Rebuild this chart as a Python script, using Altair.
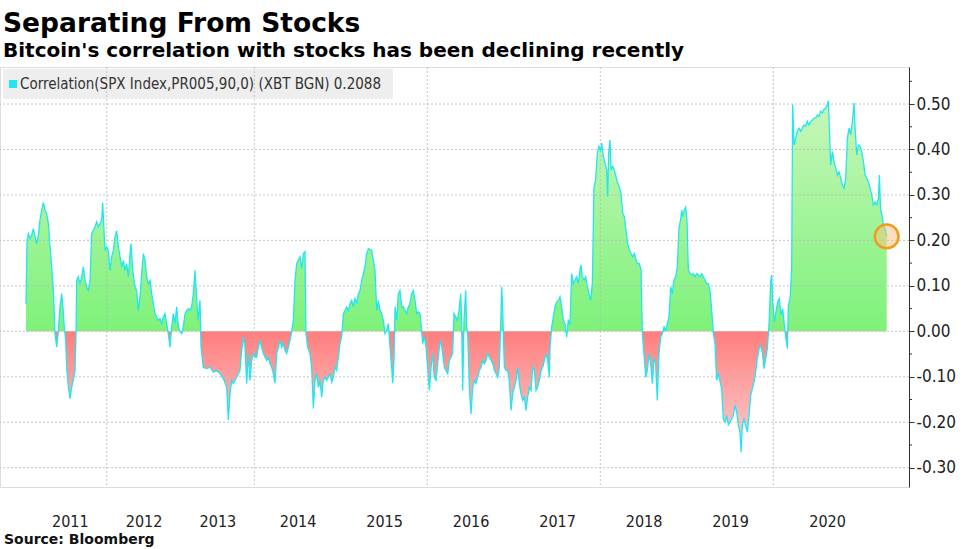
import altair as alt
import pandas as pd

# ---------------- data (decimal year, 90-day correlation) ----------------
years_a = [2010.906, 2010.920, 2010.938, 2010.961, 2010.983, 2011.006, 2011.028, 2011.051, 2011.073, 2011.096,
           2011.119, 2011.141, 2011.164, 2011.186, 2011.209, 2011.232, 2011.254, 2011.277, 2011.299, 2011.322,
           2011.345, 2011.367, 2011.390, 2011.403, 2011.421, 2011.444, 2011.457, 2011.480, 2011.503, 2011.525,
           2011.548, 2011.570, 2011.584, 2011.593, 2011.615, 2011.638, 2011.661, 2011.683, 2011.706, 2011.728,
           2011.751, 2011.774, 2011.796, 2011.819, 2011.841, 2011.864, 2011.887, 2011.909, 2011.932, 2011.945,
           2011.963, 2011.977, 2011.999, 2012.022, 2012.045, 2012.067, 2012.090, 2012.112, 2012.135, 2012.158,
           2012.180, 2012.203, 2012.225, 2012.248, 2012.270, 2012.293, 2012.316, 2012.329, 2012.352, 2012.383,
           2012.406, 2012.428, 2012.451, 2012.474, 2012.496, 2012.519, 2012.541, 2012.564, 2012.587, 2012.609,
           2012.632, 2012.654, 2012.677, 2012.700, 2012.722, 2012.745, 2012.767, 2012.790, 2012.812, 2012.835,
           2012.858, 2012.880, 2012.903, 2012.925, 2012.948, 2012.971, 2012.993, 2013.016, 2013.038, 2013.061,
           2013.084, 2013.106, 2013.129, 2013.151, 2013.174, 2013.196]
corr_a = [0.06, 0.20, 0.215, 0.204, 0.211, 0.226, 0.208, 0.193, 0.211, 0.245,
          0.267, 0.283, 0.267, 0.259, 0.237, 0.186, 0.142, 0.090, -0.005, -0.035,
          0.002, 0.054, 0.083, 0.061, 0.017, -0.020, -0.079, -0.123, -0.148, -0.123,
          -0.108, -0.086, -0.005, 0.112, 0.120, 0.105, 0.120, 0.142, 0.112, 0.098,
          0.090, 0.112, 0.215, 0.222, 0.230, 0.241, 0.230, 0.237, 0.245, 0.283,
          0.222, 0.178, 0.186, 0.178, 0.134, 0.164, 0.178, 0.208, 0.221, 0.186,
          0.164, 0.142, 0.156, 0.134, 0.149, 0.120, 0.171, 0.193, 0.134, 0.098,
          0.090, 0.046, 0.076, 0.127, 0.171, 0.156, 0.120, 0.105, 0.112, 0.083,
          0.061, 0.039, 0.032, 0.024, 0.028, 0.017, 0.032, 0.039, 0.017, -0.005,
          -0.035, 0.010, 0.039, 0.017, 0.054, 0.010, -0.001, -0.005, 0.010, 0.039,
          0.046, 0.050, 0.046, 0.054, 0.083, 0.134]

years_b = [2013.237, 2013.264, 2013.278, 2013.309, 2013.355, 2013.400, 2013.445, 2013.490, 2013.535, 2013.580,
           2013.626, 2013.648, 2013.671, 2013.693, 2013.716, 2013.761, 2013.806, 2013.829, 2013.852, 2013.874,
           2013.897, 2013.919, 2013.942, 2013.964, 2013.987, 2014.008, 2014.027, 2014.047, 2014.066, 2014.085,
           2014.105, 2014.124, 2014.143, 2014.162, 2014.182, 2014.201, 2014.220, 2014.239, 2014.259, 2014.278,
           2014.297, 2014.317, 2014.336, 2014.355, 2014.374, 2014.394, 2014.413, 2014.432, 2014.451, 2014.471,
           2014.490, 2014.509, 2014.529, 2014.548, 2014.567, 2014.586, 2014.598, 2014.617, 2014.644, 2014.663,
           2014.683, 2014.702, 2014.721, 2014.741, 2014.760, 2014.779, 2014.798, 2014.818, 2014.837, 2014.856,
           2014.875, 2014.895, 2014.914, 2014.933, 2014.952, 2014.972, 2014.991, 2015.010, 2015.030, 2015.049,
           2015.068, 2015.087, 2015.107, 2015.126, 2015.145, 2015.164, 2015.184, 2015.203, 2015.222, 2015.242,
           2015.261, 2015.280, 2015.299, 2015.319, 2015.338, 2015.357, 2015.376]
corr_b = [0.024, 0.068, -0.035, -0.079, -0.082, -0.079, -0.090, -0.086, -0.093, -0.104,
          -0.123, -0.195, -0.137, -0.108, -0.115, -0.101, -0.086, -0.042, -0.012, -0.035,
          -0.115, -0.049, -0.108, -0.064, -0.049, -0.057, -0.057, -0.035, -0.020, -0.035,
          -0.049, -0.057, -0.064, -0.057, -0.071, -0.079, -0.093, -0.114, -0.049, -0.035,
          -0.020, -0.035, -0.027, -0.042, -0.049, -0.035, -0.020, -0.001, 0.024, 0.112,
          0.149, 0.156, 0.164, 0.138, 0.171, 0.175, -0.005, -0.035, -0.049, -0.079,
          -0.170, -0.108, -0.093, -0.123, -0.108, -0.145, -0.108, -0.101, -0.108, -0.101,
          -0.093, -0.112, -0.101, -0.079, -0.086, -0.057, -0.027, -0.012, 0.039, 0.046,
          0.054, 0.046, 0.061, 0.068, 0.054, 0.072, 0.061, 0.083, 0.090, 0.112,
          0.127, 0.142, 0.171, 0.182, 0.180, 0.178, 0.156]

years_c = [2015.395, 2015.415, 2015.434, 2015.453, 2015.473, 2015.492, 2015.511, 2015.530, 2015.550, 2015.569,
           2015.588, 2015.600, 2015.615, 2015.627, 2015.646, 2015.665, 2015.684, 2015.704, 2015.723, 2015.742,
           2015.762, 2015.781, 2015.800, 2015.819, 2015.839, 2015.858, 2015.877, 2015.896, 2015.916, 2015.935,
           2015.947, 2015.966, 2015.985, 2016.004, 2016.024, 2016.043, 2016.062, 2016.081, 2016.101, 2016.120,
           2016.139, 2016.159, 2016.178, 2016.197, 2016.216, 2016.236, 2016.255, 2016.274, 2016.293, 2016.309,
           2016.328, 2016.347, 2016.367, 2016.386, 2016.397, 2016.409, 2016.424, 2016.444, 2016.455, 2016.467,
           2016.486, 2016.505, 2016.525, 2016.544, 2016.563, 2016.583, 2016.602, 2016.621, 2016.640, 2016.660,
           2016.679, 2016.698, 2016.717, 2016.737, 2016.756, 2016.775, 2016.794, 2016.814, 2016.833, 2016.852,
           2016.860, 2016.871, 2016.879, 2016.891, 2016.910, 2016.929, 2016.948, 2016.968, 2016.987, 2017.006,
           2017.026, 2017.045, 2017.064, 2017.083, 2017.103, 2017.122, 2017.141, 2017.160, 2017.180, 2017.199,
           2017.218, 2017.238, 2017.257, 2017.276, 2017.295, 2017.315, 2017.334, 2017.353, 2017.372, 2017.392,
           2017.411]
corr_c = [0.134, 0.046, 0.068, 0.046, 0.039, 0.024, -0.005, 0.002, 0.017, -0.035,
          -0.079, -0.114, -0.064, 0.054, 0.024, 0.083, 0.090, 0.054, 0.054, 0.046,
          0.039, 0.054, 0.061, 0.083, 0.090, 0.068, 0.039, 0.043, 0.039, 0.002,
          -0.027, -0.012, -0.035, -0.079, -0.130, -0.079, -0.049, -0.101, -0.108, -0.071,
          -0.035, -0.020, -0.049, -0.079, -0.086, -0.093, -0.064, -0.057, -0.049, 0.039,
          0.032, 0.024, 0.046, 0.083, 0.024, -0.130, 0.024, 0.090, 0.010, -0.005,
          -0.123, -0.182, -0.123, -0.108, -0.115, -0.101, -0.086, -0.079, -0.064, -0.071,
          -0.064, -0.049, -0.057, -0.064, -0.071, -0.086, -0.093, -0.101, -0.079, 0.039,
          0.098, 0.054, -0.005, -0.079, -0.086, -0.086, -0.108, -0.174, -0.137, -0.123,
          -0.108, -0.079, -0.115, -0.137, -0.152, -0.145, -0.174, -0.145, -0.123, -0.130,
          -0.079, -0.086, -0.130, -0.123, -0.108, -0.086, -0.079, -0.064, -0.049, -0.064,
          -0.101]

years_d = [2017.419, 2017.438, 2017.457, 2017.476, 2017.496, 2017.515, 2017.534, 2017.553, 2017.573, 2017.592,
           2017.611, 2017.630, 2017.650, 2017.669, 2017.688, 2017.708, 2017.727, 2017.746, 2017.765, 2017.777,
           2017.792, 2017.812, 2017.831, 2017.850, 2017.869, 2017.889, 2017.908, 2017.927, 2017.946, 2017.966,
           2017.985, 2018.004, 2018.016, 2018.035, 2018.054, 2018.074, 2018.085, 2018.097, 2018.112, 2018.124,
           2018.143, 2018.162, 2018.182, 2018.201, 2018.220, 2018.239, 2018.259, 2018.278, 2018.297, 2018.316,
           2018.336, 2018.355, 2018.374, 2018.394, 2018.413, 2018.432, 2018.451, 2018.471, 2018.486, 2018.505,
           2018.525, 2018.544, 2018.563, 2018.582, 2018.602, 2018.621, 2018.640, 2018.659, 2018.679, 2018.698,
           2018.717, 2018.737, 2018.756, 2018.775, 2018.794, 2018.814, 2018.833, 2018.852, 2018.871, 2018.891,
           2018.910, 2018.929, 2018.941, 2018.952, 2018.972, 2018.987, 2019.002, 2019.018, 2019.037, 2019.056,
           2019.076, 2019.095, 2019.114, 2019.134, 2019.153, 2019.172, 2019.191, 2019.211, 2019.230, 2019.249,
           2019.268, 2019.288, 2019.307, 2019.326, 2019.345, 2019.365, 2019.384]
corr_d = [-0.035, 0.010, 0.032, 0.054, 0.065, 0.068, 0.076, 0.054, 0.024, 0.017,
          -0.013, 0.024, 0.017, 0.127, 0.105, 0.113, 0.120, 0.105, 0.135, 0.146,
          0.120, 0.113, 0.120, 0.098, 0.083, 0.068, 0.105, 0.318, 0.333, 0.392,
          0.407, 0.396, 0.414, 0.385, 0.370, 0.355, 0.296, 0.392, 0.421, 0.355,
          0.363, 0.355, 0.340, 0.326, 0.318, 0.304, 0.260, 0.252, 0.223, 0.193,
          0.179, 0.171, 0.164, 0.171, 0.157, 0.149, 0.149, 0.135, -0.005, -0.049,
          -0.101, -0.086, -0.049, -0.071, -0.115, -0.057, -0.071, -0.152, -0.049, -0.013,
          -0.005, 0.010, 0.002, 0.017, 0.032, 0.098, 0.083, 0.113, 0.120, 0.142,
          0.230, 0.245, 0.267, 0.252, 0.267, 0.273, 0.245, 0.135, 0.127, 0.124,
          0.127, 0.120, 0.127, 0.124, 0.120, 0.127, 0.120, 0.113, 0.105, 0.105,
          0.090, 0.046, -0.005, -0.027, -0.108, -0.093, -0.110]

years_e = [2019.403, 2019.422, 2019.442, 2019.461, 2019.480, 2019.499, 2019.519, 2019.538, 2019.557, 2019.577,
           2019.596, 2019.615, 2019.627, 2019.642, 2019.661, 2019.681, 2019.700, 2019.719, 2019.738, 2019.758,
           2019.777, 2019.796, 2019.815, 2019.835, 2019.854, 2019.873, 2019.893, 2019.912, 2019.931, 2019.950,
           2019.970, 2019.981, 2019.993, 2020.010, 2020.025, 2020.041, 2020.056, 2020.072, 2020.087, 2020.103,
           2020.118, 2020.131, 2020.140, 2020.156, 2020.171, 2020.180, 2020.193, 2020.208, 2020.224, 2020.239,
           2020.255, 2020.270, 2020.286, 2020.301, 2020.317, 2020.332, 2020.348, 2020.363, 2020.379, 2020.394,
           2020.410, 2020.425, 2020.441, 2020.456, 2020.472, 2020.487, 2020.503, 2020.512, 2020.522, 2020.534,
           2020.550, 2020.565, 2020.581, 2020.596, 2020.612, 2020.627, 2020.643, 2020.658, 2020.674, 2020.689,
           2020.705, 2020.720, 2020.736, 2020.751, 2020.761, 2020.776, 2020.792, 2020.807, 2020.823, 2020.838,
           2020.854, 2020.869, 2020.885, 2020.900, 2020.916, 2020.931, 2020.947, 2020.962, 2020.978, 2020.987,
           2020.997, 2021.009, 2021.025, 2021.040, 2021.055]
corr_e = [-0.126, -0.193, -0.200, -0.185, -0.206, -0.200, -0.193, -0.185, -0.163, -0.178,
          -0.207, -0.222, -0.266, -0.207, -0.193, -0.207, -0.222, -0.185, -0.141, -0.126,
          -0.112, -0.090, -0.060, -0.038, -0.031, -0.046, -0.082, -0.060, -0.038, 0.013,
          0.109, 0.124, 0.065, 0.021, 0.043, 0.065, 0.072, 0.035, 0.050, 0.013,
          -0.016, -0.038, 0.057, 0.072, 0.138, 0.499, 0.410, 0.425, 0.440, 0.447,
          0.440, 0.447, 0.454, 0.451, 0.462, 0.454, 0.462, 0.465, 0.469, 0.469,
          0.476, 0.473, 0.484, 0.480, 0.488, 0.491, 0.499, 0.507, 0.447, 0.366,
          0.396, 0.374, 0.359, 0.344, 0.351, 0.337, 0.322, 0.315, 0.337, 0.425,
          0.447, 0.432, 0.462, 0.502, 0.447, 0.388, 0.410, 0.407, 0.396, 0.374,
          0.344, 0.337, 0.329, 0.315, 0.300, 0.278, 0.285, 0.278, 0.293, 0.344,
          0.271, 0.256, 0.234, 0.226, 0.2088]

label_years = [2011, 2012, 2013, 2014, 2015, 2016, 2017, 2018, 2019, 2020]
grid_years = [2012, 2014, 2016, 2018, 2020]
y_major = [-0.30, -0.20, -0.10, 0.00, 0.10, 0.20, 0.30, 0.40, 0.50]
y_minor = [-0.25, -0.15, -0.05, 0.05, 0.15, 0.25, 0.35, 0.45, 0.55]
legend_label = "Correlation(SPX Index,PR005,90,0) (XBT BGN) 0.2088"

years = years_a + years_b + years_c + years_d + years_e
corr = corr_a + corr_b + corr_c + corr_d + corr_e
df = pd.DataFrame({"year": years, "corr": corr})
last = df.tail(1)

# ---------------- layout ----------------
W, H = 909, 420
FONT = "DejaVu Sans Condensed, DejaVu Sans, sans-serif"
BOLD = "DejaVu Sans, sans-serif"

xs = alt.Scale(domain=[2010.906, 2014.0, 2020.0, 2021.055],
               range=[26.0, 254.3, 773.3, 886.7], nice=False, zero=False)
ys = alt.Scale(domain=[-0.3425, 0.5815], nice=False, zero=False)

vmax, vmin = max(corr), min(corr)
zero_off = vmax / (vmax - vmin)
grad = alt.Gradient(
    gradient="linear", x1=0, x2=0, y1=0, y2=1,
    stops=[alt.GradientStop(color="#c8f6ba", offset=0),
           alt.GradientStop(color="#7ef27a", offset=zero_off),
           alt.GradientStop(color="#ff7e7e", offset=zero_off),
           alt.GradientStop(color="#fad2d2", offset=1)])

x_axis = alt.Axis(values=[v + 0.5 for v in label_years], labelExpr="floor(datum.value)",
                  ticks=False, domain=False, grid=False, labelPadding=26, title=None,
                  labelFont=FONT, labelFontSize=16, labelColor="#222222")
y_axis = alt.Axis(orient="right", values=y_major, title=None, grid=False,
                  labelExpr="(datum.value < -0.001 ? '-' : '') + format(abs(datum.value), '.2f')",
                  tickSize=5, tickColor="#333333", domainColor="#333333", labelPadding=2,
                  labelFont=FONT, labelFontSize=17, labelColor="#222222")

one = pd.DataFrame({"a": [0]})

box = alt.Chart(one).mark_rect(color="#eeeeee").encode(
    x=alt.value(3), x2=alt.value(393), y=alt.value(2), y2=alt.value(32))

area = alt.Chart(df).mark_area(fill=grad, interpolate="linear").encode(
    x=alt.X("year:Q", scale=xs, axis=x_axis),
    y=alt.Y("corr:Q", scale=ys, axis=y_axis),
    y2=alt.datum(0))

hgrid = alt.Chart(pd.DataFrame({"v": y_major})).mark_rule(
    color="#b8b8b8", strokeDash=[2, 2], strokeWidth=1, opacity=0.8).encode(
    y=alt.Y("v:Q", scale=ys))

vgrid = alt.Chart(pd.DataFrame({"g": grid_years})).mark_rule(
    color="#b8b8b8", strokeDash=[2, 2], strokeWidth=1, opacity=0.8).encode(
    x=alt.X("g:Q", scale=xs))

minor = alt.Chart(pd.DataFrame({"m": y_minor})).mark_rule(
    color="#333333", strokeWidth=1).encode(
    y=alt.Y("m:Q", scale=ys), x=alt.value(W), x2=alt.value(W + 3))

line = alt.Chart(df).mark_line(color="#22e6ef", strokeWidth=1.3, interpolate="linear").encode(
    x=alt.X("year:Q", scale=xs),
    y=alt.Y("corr:Q", scale=ys))

marker = alt.Chart(last).mark_circle(size=560, fill="#fbc07e", fillOpacity=0.5,
                                     stroke="#f29a1a", strokeWidth=2.5, opacity=1).encode(
    x=alt.X("year:Q", scale=xs),
    y=alt.Y("corr:Q", scale=ys))

sq = alt.Chart(one).mark_square(size=64, color="#22e6ef", opacity=1).encode(
    x=alt.value(13), y=alt.value(17))

legend_txt = alt.Chart(one).mark_text(align="left", baseline="middle", font=FONT,
                                      fontSize=15, color="#333333", text=legend_label).encode(
    x=alt.value(20), y=alt.value(17))

source = alt.Chart(one).mark_text(align="left", baseline="middle", font=BOLD, fontSize=14,
                                  fontWeight="bold", color="#111111",
                                  text="Source: Bloomberg").encode(
    x=alt.value(4), y=alt.value(H + 53))

chart = alt.layer(box, area, hgrid, vgrid, line, marker, minor, sq, legend_txt, source).properties(
    width=W, height=H,
    title=alt.TitleParams(
        "Separating From Stocks",
        subtitle="Bitcoin's correlation with stocks has been declining recently",
        anchor="start", frame="group", dx=3, offset=6,
        font=BOLD, fontSize=26.5, fontWeight="bold", color="#000000",
        subtitleFont=BOLD, subtitleFontSize=20, subtitleFontWeight="bold",
        subtitleColor="#000000", subtitlePadding=3),
    padding={"left": 0, "top": 67, "right": 68, "bottom": 62},
    autosize=alt.AutoSizeParams(type="none"),
).configure_view(strokeWidth=0).configure(background="white")

chart.save("out.html", embed_options={"renderer": "svg", "actions": False})
